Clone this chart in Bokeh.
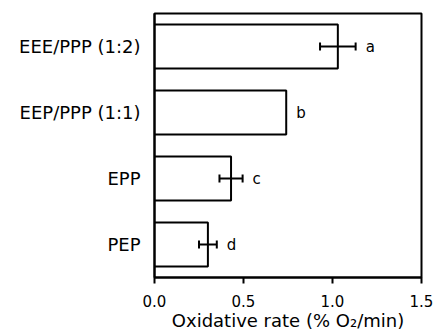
from bokeh.plotting import figure
from bokeh.models import (ColumnDataSource, FactorRange, Range1d, FixedTicker,
                          Whisker, TeeHead, NumeralTickFormatter)
from bokeh.core.properties import value
from bokeh.embed import file_html
from bokeh.resources import INLINE

# ---- data (top to bottom as in the picture) ----
categories = ["EEE/PPP (1:2)", "EEP/PPP (1:1)", "EPP", "PEP"]
rates = [1.03, 0.74, 0.43, 0.30]
errors = [0.10, 0.0, 0.065, 0.05]
letters = ["a", "b", "c", "d"]
x_ticks = [0.0, 0.5, 1.0, 1.5]

FONT = "DejaVu Sans"

src = ColumnDataSource(dict(
    cat=categories,
    rate=rates,
    err=errors,
    lower=[r - e for r, e in zip(rates, errors)],
    upper=[r + e for r, e in zip(rates, errors)],
    letter=letters,
))
has_err = [i for i, e in enumerate(errors) if e > 0]
err_src = ColumnDataSource(dict(
    cat=[categories[i] for i in has_err],
    lower=[rates[i] - errors[i] for i in has_err],
    upper=[rates[i] + errors[i] for i in has_err],
))

p = figure(width=435, height=333, output_backend="svg", toolbar_location=None,
           y_range=FactorRange(*reversed(categories), range_padding=0),
           x_range=Range1d(0, 1.5),
           min_border_left=154, min_border_right=14,
           min_border_top=13, min_border_bottom=54)
p.background_fill_color = "white"
p.border_fill_color = "white"
p.outline_line_color = "black"
p.outline_line_width = 2
p.xgrid.visible = False
p.ygrid.visible = False

p.hbar(y="cat", right="rate", left=0, height=0.67, source=src,
       fill_color="white", line_color="black", line_width=2)

wh = Whisker(source=err_src, base="cat", lower="lower", upper="upper",
             dimension="width", line_color="black", line_width=2,
             level="overlay",
             lower_head=TeeHead(size=8, line_color="black", line_width=2),
             upper_head=TeeHead(size=8, line_color="black", line_width=2))
p.add_layout(wh)

p.text(x="upper", y="cat", text="letter", source=src, x_offset=10,
       text_baseline="middle", text_align="left",
       text_font=value(FONT), text_font_size="15px", text_color="black")

# x axis
xa = p.xaxis[0]
xa.ticker = FixedTicker(ticks=x_ticks)
xa.formatter = NumeralTickFormatter(format="0.0")
xa.minor_tick_line_color = None
xa.major_tick_in = 0
xa.major_tick_out = 6
xa.major_tick_line_width = 2
xa.major_tick_line_color = "black"
xa.axis_line_color = "black"
xa.axis_line_width = 2
xa.major_label_text_font = FONT
xa.major_label_text_font_size = "15px"
xa.major_label_text_color = "black"
xa.major_label_standoff = 11
xa.axis_label = "Oxidative rate (% O\u2082/min)"
xa.axis_label_text_font = FONT
xa.axis_label_text_font_size = "18px"
xa.axis_label_text_font_style = "normal"
xa.axis_label_text_color = "black"
xa.axis_label_standoff = 0

# y axis
ya = p.yaxis[0]
ya.major_tick_line_color = None
ya.minor_tick_line_color = None
ya.axis_line_color = "black"
ya.axis_line_width = 2
ya.major_label_text_font = FONT
ya.major_label_text_font_size = "18px"
ya.major_label_text_color = "black"
ya.major_label_standoff = 8

open("out.html", "w").write(file_html(p, INLINE))
